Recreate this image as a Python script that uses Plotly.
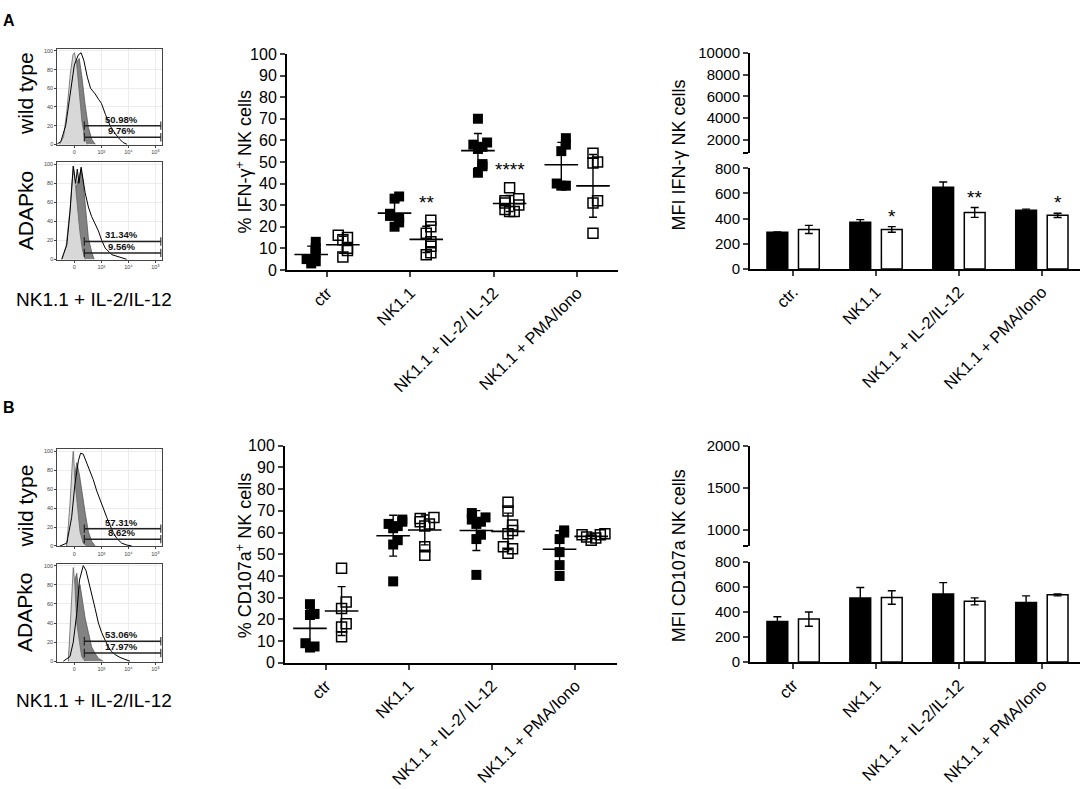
import numpy as np
import plotly.graph_objects as go

W, H = 1084, 789
FONT = "Arial, Liberation Sans, sans-serif"

# ---------------- flow histograms (x in decades: 0 -> "0", 1..3 -> 10^3..10^5) ----------------
hist_ticks = ["0", "10³", "10⁴", "10⁵"]

a_wt_iso_u = [-0.55, -0.4, -0.28, -0.15, -0.05, 0.0, 0.08, 0.18, 0.28, 0.38, 0.48]
a_wt_iso_v = [0, 8, 35, 75, 96, 98, 88, 55, 25, 7, 0]
a_wt_dark_u = [-0.5, -0.35, -0.2, -0.05, 0.08, 0.18, 0.28, 0.4, 0.52, 0.65, 0.78]
a_wt_dark_v = [0, 6, 28, 62, 88, 92, 72, 42, 18, 5, 0]
a_wt_stim_u = [-0.65, -0.5, -0.32, -0.15, 0.0, 0.15, 0.25, 0.35, 0.48, 0.6, 0.77, 0.9, 1.0, 1.15, 1.32, 1.5, 1.63, 1.8, 1.95]
a_wt_stim_v = [0, 3, 20, 55, 85, 96, 98, 90, 72, 60, 54, 48, 44, 32, 20, 12, 7, 2, 0]

a_ko_iso_u = [-0.45, -0.3, -0.15, -0.04, 0.05, 0.12, 0.2, 0.3, 0.4]
a_ko_iso_v = [0, 15, 55, 98, 75, 55, 30, 10, 0]
a_ko_dark_u = [-0.35, -0.22, -0.1, 0.02, 0.15, 0.25, 0.33, 0.43, 0.52, 0.64, 0.73]
a_ko_dark_v = [0, 15, 45, 70, 85, 95, 80, 45, 22, 8, 0]
a_ko_stim_u = [-0.47, -0.28, -0.16, -0.04, 0.05, 0.11, 0.17, 0.25, 0.4, 0.52, 0.64, 0.77, 0.89, 1.01, 1.14, 1.38, 1.69, 1.94]
a_ko_stim_v = [0, 15, 50, 98, 80, 95, 80, 97, 70, 55, 45, 38, 30, 20, 12, 5, 2, 0]

b_wt_iso_u = [-0.28, -0.16, -0.07, -0.04, 0.02, 0.11, 0.21, 0.33, 0.46]
b_wt_iso_v = [0, 45, 90, 100, 70, 40, 15, 3, 0]
b_wt_dark_u = [-0.28, -0.14, -0.01, 0.09, 0.19, 0.31, 0.4, 0.52, 0.64, 0.77]
b_wt_dark_v = [0, 30, 70, 88, 75, 50, 35, 15, 5, 0]
b_wt_stim_u = [-0.53, -0.28, -0.1, 0.02, 0.15, 0.23, 0.33, 0.43, 0.58, 0.7, 0.83, 0.95, 1.07, 1.2, 1.32, 1.44, 1.57, 1.75, 1.94, 2.12]
b_wt_stim_v = [0, 3, 30, 65, 90, 98, 97, 90, 80, 70, 58, 48, 40, 30, 22, 14, 8, 3, 1, 0]

b_ko_iso_u = [-0.22, -0.12, -0.04, 0.02, 0.09, 0.19, 0.27, 0.4]
b_ko_iso_v = [0, 50, 98, 80, 40, 20, 5, 0]
b_ko_dark_u = [-0.22, -0.1, 0.02, 0.09, 0.15, 0.21, 0.31, 0.4, 0.52, 0.64, 0.77, 0.89, 1.07]
b_ko_dark_v = [0, 40, 85, 92, 75, 80, 60, 45, 30, 15, 8, 3, 0]
b_ko_stim_u = [-0.41, -0.16, -0.04, 0.09, 0.19, 0.27, 0.33, 0.43, 0.52, 0.64, 0.77, 0.89, 1.01, 1.14, 1.26, 1.38, 1.51, 1.69, 1.88, 2.06]
b_ko_stim_v = [0, 5, 20, 50, 85, 95, 100, 95, 85, 70, 55, 40, 30, 22, 15, 10, 7, 4, 2, 0]

gate_start, gate_end = 0.37, 3.2
a_wt_gates, a_wt_gate_text = [20, 7.6], ["50.98%", "9.76%"]
a_ko_gates, a_ko_gate_text = [18.8, 6.8], ["31.34%", "9.56%"]
b_wt_gates, b_wt_gate_text = [18.3, 7.2], ["57.31%", "8.62%"]
b_ko_gates, b_ko_gate_text = [21, 8.6], ["53.06%", "17.97%"]

# ---------------- % positive NK cells (dot plots) ----------------
dot_cats = ["ctr", "NK1.1", "NK1.1 + IL-2/ IL-12", "NK1.1 + PMA/Iono"]
ifng_wt = [[13, 10, 5, 3, 4, 8], [34, 33, 26, 24, 22, 20, 25],
           [70, 59, 58, 57, 56, 49, 48, 45], [61, 58, 55, 40, 39, 39]]
ifng_ko = [[16, 15, 14, 10, 9, 6], [23, 20, 17, 13, 11, 8, 7],
           [38, 33, 32, 31, 30, 28, 27, 27], [54, 50, 49.5, 32, 31, 17]]
ifng_stars = ["", "**", "****", ""]
cd107_wt = [[27, 22.5, 22, 9, 7.5, 7], [66, 65, 64, 63, 62, 56.5, 54.5, 37.5],
            [69, 67, 66, 65, 64, 59, 57, 40.5], [61, 60, 57, 51, 45, 40]]
cd107_ko = [[43.5, 28, 25, 18, 16.5, 12], [67, 66.5, 65, 64, 63, 53.5, 49.5],
            [74, 70, 63.5, 61, 59.5, 53.5, 52.5, 50.5], [59.5, 59, 58, 57.5, 56.5, 59]]

# ---------------- MFI bars (mean, sem) ----------------
bar_a_cats = ["ctr.", "NK1.1", "NK1.1 + IL-2/IL-12", "NK1.1 + PMA/Iono"]
bar_b_cats = ["ctr", "NK1.1", "NK1.1 + IL-2/IL-12", "NK1.1 + PMA/Iono"]
mfi_ifng_wt = [291, 371, 649, 467]
mfi_ifng_wt_err = [3, 21, 42, 8]
mfi_ifng_ko = [314, 314, 449, 426]
mfi_ifng_ko_err = [32, 22, 39, 17]
mfi_ifng_stars = ["", "*", "**", "*"]
mfi_cd107_wt = [324, 512, 545, 476]
mfi_cd107_wt_err = [38, 85, 91, 54]
mfi_cd107_ko = [344, 517, 486, 538]
mfi_cd107_ko_err = [57, 54, 28, 8]


def dom_x(p0, p1):
    return [p0 / W, p1 / W]


def dom_y(top, bot):
    return [1 - bot / H, 1 - top / H]


def ax(n):
    return ("x" if n == 1 else "x%d" % n), ("y" if n == 1 else "y%d" % n)


def key(letter, n):
    return letter + "axis" + ("" if n == 1 else str(n))


fig = go.Figure()
layout = {}
annots = []


def swarm(vals, thr=3.2, step=0.055):
    order = np.argsort(vals)
    offs = np.zeros(len(vals))
    placed = []
    for i in order:
        k = sum(1 for j in placed if abs(vals[j] - vals[i]) < thr)
        offs[i] = ((k + 1) // 2) * step * (1 if k % 2 else -1)
        placed.append(i)
    return offs


def add_hist(n, top, bot, iso, dark, stim, gates, gate_text):
    xa, ya = ax(n)
    fig.add_trace(go.Scatter(x=dark[0], y=dark[1], mode="lines", fill="tozeroy",
                             fillcolor="#828282", line=dict(color="#555", width=0.8),
                             xaxis=xa, yaxis=ya))
    fig.add_trace(go.Scatter(x=iso[0], y=iso[1], mode="lines", fill="tozeroy",
                             fillcolor="#d8d8d8", line=dict(color="#666", width=0.8),
                             xaxis=xa, yaxis=ya))
    fig.add_trace(go.Scatter(x=stim[0], y=stim[1], mode="lines",
                             line=dict(color="black", width=1), xaxis=xa, yaxis=ya))
    for g, t in zip(gates, gate_text):
        fig.add_trace(go.Scatter(x=[gate_start, gate_end], y=[g, g], mode="lines+markers",
                                 line=dict(color="#222", width=1.5),
                                 marker=dict(symbol="line-ns-open", size=6, color="#222",
                                             line=dict(color="#222", width=1.2)),
                                 xaxis=xa, yaxis=ya))
        annots.append(dict(x=1.75, y=g, xref=xa, yref=ya, text="<b>%s</b>" % t,
                           showarrow=False, yanchor="bottom", yshift=-1,
                           font=dict(size=9.5, color="#111", family=FONT)))
    layout[key("x", n)] = dict(domain=dom_x(57.3, 161.7), range=[-0.63, 3.23], anchor=ya,
                               tickvals=[0, 1, 2, 3], ticktext=hist_ticks, ticks="outside",
                               ticklen=2, tickfont=dict(size=5.5, color="#444"),
                               showline=True, mirror=True, linecolor="#444", linewidth=1,
                               showgrid=True, gridcolor="#ececec", zeroline=False)
    layout[key("y", n)] = dict(domain=dom_y(top, bot), range=[-0.5, 102], anchor=xa,
                               tickvals=[0, 20, 40, 60, 80, 100], ticks="outside", ticklen=2,
                               tickfont=dict(size=5.5, color="#444"),
                               showline=True, mirror=True, linecolor="#444", linewidth=1,
                               showgrid=True, gridcolor="#ececec", zeroline=False)


def add_dots(n, left, right, top, bot, wt, ko, stars, xrange):
    xa, ya = ax(n)
    for grp, off, filled in [(wt, -0.19, True), (ko, 0.19, False)]:
        for i, vals in enumerate(grp):
            vals = np.array(vals, dtype=float)
            xs = i + off + swarm(vals)
            mk = dict(symbol="square", size=10, color="black") if filled else \
                dict(symbol="square-open", size=10, color="black", line=dict(width=1.5))
            fig.add_trace(go.Scatter(x=xs, y=vals, mode="markers", marker=mk, cliponaxis=False,
                                     xaxis=xa, yaxis=ya))
            fig.add_trace(go.Scatter(x=[i + off], y=[vals.mean()], mode="markers",
                                     marker=dict(symbol="line-ew", size=24, color="black",
                                                 line=dict(color="black", width=1.6)),
                                     error_y=dict(type="data", array=[vals.std(ddof=1)],
                                                  color="black", thickness=1.4, width=4),
                                     cliponaxis=False, xaxis=xa, yaxis=ya))
    for i, s in enumerate(stars):
        if s:
            annots.append(dict(x=i + 0.19, y=max(ko[i]) + 2.5, xref=xa, yref=ya, text=s,
                               showarrow=False, yanchor="bottom",
                               font=dict(size=19, color="black", family=FONT)))
    layout[key("x", n)] = dict(domain=dom_x(left, right), range=xrange, anchor=ya,
                               tickvals=[0, 1, 2, 3], ticktext=dot_cats, tickangle=-45,
                               ticks="outside", ticklen=5, tickwidth=2,
                               tickfont=dict(size=16.5, color="black", family=FONT),
                               showline=True, linecolor="black", linewidth=2,
                               showgrid=False, zeroline=False)
    layout[key("y", n)] = dict(domain=dom_y(top, bot), range=[0, 100], anchor=xa, dtick=10,
                               ticks="outside", ticklen=5, tickwidth=2,
                               tickfont=dict(size=16, color="black", family=FONT),
                               showline=True, linecolor="black", linewidth=2,
                               showgrid=False, zeroline=False)


def add_bars(n, top_lo, bot_lo, top_hi, cats, wt, wt_err, ko, ko_err, stars,
             hi_range, hi_ticks):
    xa, ya = ax(n)
    fig.add_trace(go.Bar(x=cats, y=wt, marker=dict(color="black", line=dict(color="black", width=1.5)),
                         error_y=dict(type="data", array=wt_err, color="black", thickness=1.4, width=4),
                         xaxis=xa, yaxis=ya))
    fig.add_trace(go.Bar(x=cats, y=ko, marker=dict(color="white", line=dict(color="black", width=1.5)),
                         error_y=dict(type="data", array=ko_err, color="black", thickness=1.4, width=4),
                         xaxis=xa, yaxis=ya))
    for i, s in enumerate(stars):
        if s:
            annots.append(dict(x=i + 0.19, y=ko[i] + ko_err[i], xref=xa, yref=ya, text=s,
                               showarrow=False, yanchor="bottom", yshift=-2,
                               font=dict(size=19, color="black", family=FONT)))
    layout[key("x", n)] = dict(domain=dom_x(750, 1080), range=[-0.52, 3.46], anchor=ya,
                               tickangle=-45, ticks="outside", ticklen=5, tickwidth=2,
                               tickfont=dict(size=16.5, color="black", family=FONT),
                               showline=True, linecolor="black", linewidth=2,
                               showgrid=False, zeroline=False)
    layout[key("y", n)] = dict(domain=dom_y(top_lo, bot_lo), range=[0, 800], anchor=xa, dtick=200,
                               ticks="outside", ticklen=5, tickwidth=2,
                               tickfont=dict(size=15, color="black", family=FONT),
                               showline=True, linecolor="black", linewidth=2,
                               showgrid=False, zeroline=False)
    # upper segment of the broken y axis (nothing reaches it, but it keeps the scale)
    xh, yh = ax(n + 1)
    fig.add_trace(go.Scatter(x=[None], y=[None], mode="markers", hoverinfo="skip",
                             xaxis=xh, yaxis=yh))
    layout[key("x", n + 1)] = dict(domain=dom_x(750, 1080), range=[-0.52, 3.46], anchor=yh,
                                   visible=False)
    layout[key("y", n + 1)] = dict(domain=dom_y(top_hi, top_lo - 16), range=hi_range, anchor=xh,
                                   tickvals=hi_ticks, tickformat="d",
                                   ticks="outside", ticklen=5, tickwidth=2,
                                   minor=dict(tickvals=[hi_range[0]], ticks="outside",
                                              ticklen=5, tickwidth=2, tickcolor="black"),
                                   tickfont=dict(size=15, color="black", family=FONT),
                                   showline=True, linecolor="black", linewidth=2,
                                   showgrid=False, zeroline=False)


# panel A
add_hist(1, 41, 139, (a_wt_iso_u, a_wt_iso_v), (a_wt_dark_u, a_wt_dark_v),
         (a_wt_stim_u, a_wt_stim_v), a_wt_gates, a_wt_gate_text)
add_hist(2, 157, 256.7, (a_ko_iso_u, a_ko_iso_v), (a_ko_dark_u, a_ko_dark_v),
         (a_ko_stim_u, a_ko_stim_v), a_ko_gates, a_ko_gate_text)
add_dots(3, 287, 618, 46, 267, ifng_wt, ifng_ko, ifng_stars, [-0.48, 3.49])
add_bars(4, 163, 266, 45, bar_a_cats, mfi_ifng_wt, mfi_ifng_wt_err, mfi_ifng_ko, mfi_ifng_ko_err,
         mfi_ifng_stars, [800, 10000], [2000, 4000, 6000, 8000, 10000])

# panel B
add_hist(6, 450.7, 550, (b_wt_iso_u, b_wt_iso_v), (b_wt_dark_u, b_wt_dark_v),
         (b_wt_stim_u, b_wt_stim_v), b_wt_gates, b_wt_gate_text)
add_hist(7, 567.7, 668, (b_ko_iso_u, b_ko_iso_v), (b_ko_dark_u, b_ko_dark_v),
         (b_ko_stim_u, b_ko_stim_v), b_ko_gates, b_ko_gate_text)
add_dots(8, 285, 617, 447, 669, cd107_wt, cd107_ko, ["", "", "", ""], [-0.49, 3.5])
add_bars(9, 566, 668.3, 447, bar_b_cats, mfi_cd107_wt, mfi_cd107_wt_err, mfi_cd107_ko,
         mfi_cd107_ko_err, ["", "", "", ""], [800, 2000], [1000, 1500, 2000])


def paper_text(x, y, text, size, angle=0, bold=False):
    annots.append(dict(x=x / W, y=1 - y / H, xref="paper", yref="paper",
                       text="<b>%s</b>" % text if bold else text, showarrow=False,
                       textangle=angle, xanchor="center", yanchor="middle",
                       font=dict(size=size, color="black", family=FONT)))


paper_text(9, 12, "A", 16, bold=True)
paper_text(9, 408, "B", 16, bold=True)
paper_text(25, 87, "wild type", 21, -90)
paper_text(25, 207, "ADAPko", 21, -90)
paper_text(25, 509, "wild type", 21, -90)
paper_text(25, 618, "ADAPko", 21, -90)
paper_text(94, 297, "NK1.1 + IL-2/IL-12", 19)
paper_text(94, 708, "NK1.1 + IL-2/IL-12", 19)
paper_text(244, 157, "% IFN-γ<sup>+</sup> NK cells", 18, -90)
paper_text(244, 560, "% CD107a<sup>+</sup> NK cells", 18, -90)
paper_text(679, 150, "MFI IFN-γ NK cells", 18, -90)
paper_text(679, 560, "MFI CD107a NK cells", 18, -90)

fig.update_layout(width=W, height=H, margin=dict(l=0, r=0, t=0, b=0),
                  paper_bgcolor="white", plot_bgcolor="white", showlegend=False,
                  barmode="group", bargap=0.24, bargroupgap=0.34,
                  font=dict(family=FONT, color="black"), annotations=annots, **layout)

fig.write_html("out.html", config={"displayModeBar": False},
               post_script="document.body.style.margin='0px';document.body.style.overflow='hidden';")
